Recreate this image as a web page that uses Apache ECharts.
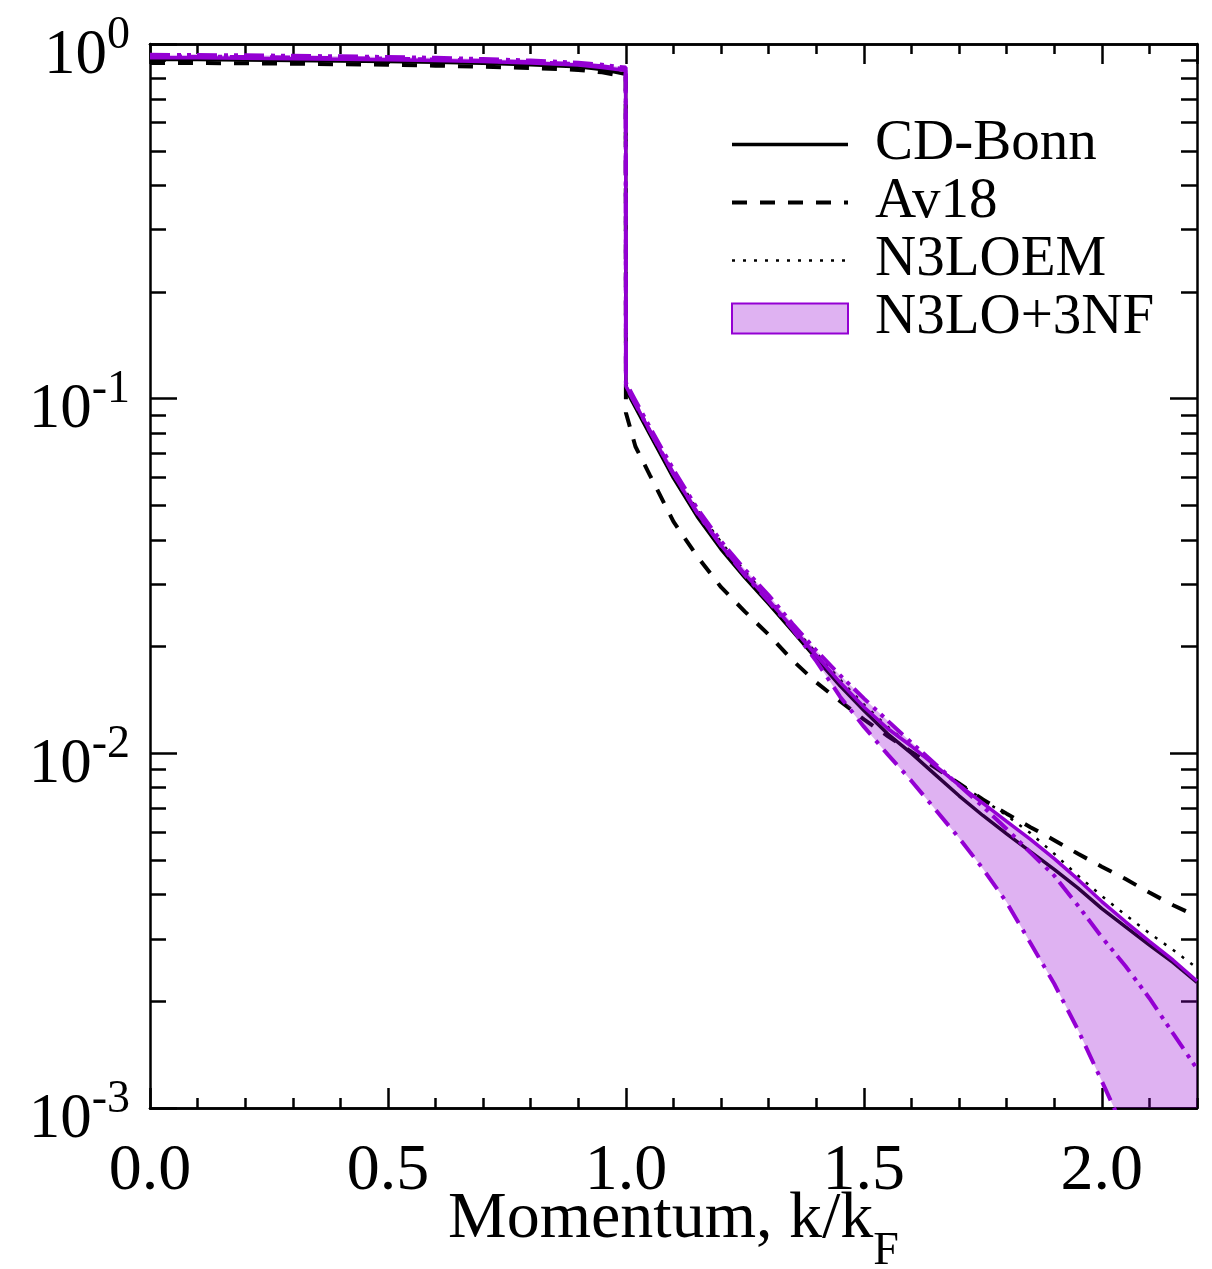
<!DOCTYPE html>
<html>
<head>
<meta charset="utf-8">
<script src="https://cdn.jsdelivr.net/npm/echarts@6/dist/echarts.min.js"></script>
<style>
  html, body { margin: 0; padding: 0; background: #fff; }
  #chart { width: 1212px; height: 1269px; }
</style>
</head>
<body>
<div id="chart"></div>
<script>
// Momentum grid k/kF (0.9995 -> 1.0 carries the jump at the Fermi surface)
const K = [0, 0.1, 0.2, 0.3, 0.4, 0.5, 0.6, 0.7, 0.8, 0.9, 0.95, 0.9995,
  1.0, 1.02, 1.05, 1.1, 1.15, 1.2, 1.25, 1.3, 1.35, 1.4, 1.45, 1.5, 1.55, 1.6,
  1.65, 1.7, 1.75, 1.8, 1.85, 1.9, 1.95, 2.0, 2.05, 2.1, 2.15, 2.2];

// Momentum distributions n(k)
const CD_BONN = [0.905, 0.904, 0.902, 0.899, 0.896, 0.893, 0.888, 0.882, 0.874, 0.862, 0.848, 0.822,
  0.106, 0.0944, 0.0794, 0.0597, 0.0465, 0.0376, 0.0313, 0.0264, 0.0221, 0.0185, 0.0155, 0.0132, 0.01135, 0.0100,
  0.00871, 0.00759, 0.00668, 0.00593, 0.00528, 0.00471, 0.00417, 0.00365, 0.00324, 0.00288, 0.00257, 0.00226];

const AV18 = [0.884, 0.884, 0.882, 0.880, 0.877, 0.874, 0.869, 0.863, 0.856, 0.845, 0.832, 0.810,
  0.0913, 0.0733, 0.0610, 0.0450, 0.0359, 0.0294, 0.0251, 0.0216, 0.0183, 0.01585, 0.01403, 0.01247, 0.01119, 0.01009,
  0.00912, 0.00822, 0.00741, 0.00676, 0.00619, 0.00569, 0.00521, 0.00479, 0.00442, 0.00405, 0.00373, 0.00347];

const N3LOEM = [0.912, 0.911, 0.909, 0.906, 0.903, 0.899, 0.894, 0.888, 0.880, 0.868, 0.855, 0.830,
  0.1084, 0.0973, 0.0818, 0.0624, 0.0486, 0.0394, 0.0326, 0.0274, 0.0229, 0.0192, 0.01614, 0.01374, 0.01189, 0.01045,
  0.0092, 0.00822, 0.00741, 0.00668, 0.00596, 0.00521, 0.00452, 0.00396, 0.0035, 0.00311, 0.00279, 0.00248];

// N3LO + three-nucleon-force family (solid, dash-dot-dot, dash-dot)
const N3LO_3NF_A = [0.915, 0.914, 0.912, 0.909, 0.906, 0.903, 0.898, 0.892, 0.884, 0.872, 0.859, 0.842,
  0.1085, 0.0966, 0.0812, 0.0611, 0.0476, 0.0385, 0.0320, 0.0270, 0.0226, 0.0189, 0.01586, 0.01351, 0.01175, 0.01047,
  0.00923, 0.00813, 0.00724, 0.00643, 0.00572, 0.00505, 0.00441, 0.00382, 0.00335, 0.00295, 0.00261, 0.00228];

const N3LO_3NF_B = [0.932, 0.931, 0.929, 0.926, 0.923, 0.919, 0.914, 0.907, 0.898, 0.886, 0.874, 0.858,
  0.111, 0.0989, 0.0832, 0.0631, 0.0490, 0.0396, 0.0330, 0.0279, 0.0232, 0.0195, 0.0166, 0.01429, 0.01236, 0.01072,
  0.00933, 0.00813, 0.00708, 0.00612, 0.00525, 0.00452, 0.00372, 0.00303, 0.00251, 0.00204, 0.00162, 0.00129];

const N3LO_3NF_C = [0.922, 0.921, 0.919, 0.916, 0.913, 0.909, 0.904, 0.897, 0.889, 0.877, 0.865, 0.848,
  0.1084, 0.0966, 0.0813, 0.0614, 0.0476, 0.0385, 0.0318, 0.0268, 0.0224, 0.0182, 0.01445, 0.01189, 0.00993, 0.00836,
  0.00695, 0.00577, 0.00473, 0.0038, 0.00292, 0.00224, 0.00166, 0.00119, 0.00085, 0.00062, 0.00045, 0.00032];

// Tick labels
const X_TICK_LABELS = ['0.0', '0.5', '1.0', '1.5', '2.0'];
const Y_TICK_EXPONENTS = ['-3', '-2', '-1', '0'];

const SERIF = "'Liberation Serif', 'Times New Roman', serif";
const PURPLE = '#9400d3';
const BAND_FILL = 'rgba(148, 0, 211, 0.3)';

const pairs = arr => K.map((k, i) => [k, arr[i]]);
const BAND = K.map((k, i) => {
  const v = [N3LO_3NF_A[i], N3LO_3NF_B[i], N3LO_3NF_C[i]];
  return [k, Math.min.apply(null, v), Math.max.apply(null, v)];
});

const axisLine = { show: true, onZero: false, lineStyle: { color: '#000', width: 2.5 } };
const tickStyle = { color: '#000', width: 2.5 };

function xAxis(position, interval, len, labels) {
  return {
    type: 'value', position: position, min: 0, max: 2.2, interval: interval,
    axisLine: axisLine,
    axisTick: { show: true, inside: true, length: len, lineStyle: tickStyle },
    axisLabel: labels ? {
      show: true, margin: 31, showMaxLabel: false,
      fontFamily: SERIF, fontSize: 66, color: '#000',
      formatter: v => X_TICK_LABELS[Math.round(v / 0.5)]
    } : { show: false },
    splitLine: { show: false }
  };
}

function yAxis(position, labels) {
  return {
    type: 'log', logBase: 10, position: position, min: 0.001, max: 1,
    axisLine: axisLine,
    axisTick: { show: true, inside: true, length: 27, lineStyle: tickStyle },
    minorTick: { show: true, splitNumber: 9, length: 16, lineStyle: tickStyle },
    axisLabel: labels ? {
      show: true, margin: 20,
      formatter: v => '{b|10}{s|' + Y_TICK_EXPONENTS[Math.round(Math.log10(v)) + 3] + '}',
      rich: {
        b: { fontFamily: SERIF, fontSize: 63, lineHeight: 63, color: '#000', verticalAlign: 'top', padding: [12, 0, 8, 0] },
        s: { fontFamily: SERIF, fontSize: 46, lineHeight: 46, color: '#000', verticalAlign: 'top' }
      }
    } : { show: false },
    splitLine: { show: false },
    minorSplitLine: { show: false }
  };
}

function line(name, data, color, width, type, z) {
  return {
    type: 'line', name: name, data: pairs(data), xAxisIndex: 0, yAxisIndex: 0,
    symbol: 'none', smooth: false, clip: true, z: z,
    lineStyle: { color: color, width: width, type: type },
    itemStyle: { color: color },
    emphasis: { disabled: true }
  };
}

const bottomAxis = xAxis('bottom', 0.5, 20, true);
bottomAxis.name = '{m|Momentum, k/k}{sub|F}';
bottomAxis.nameLocation = 'middle';
bottomAxis.nameGap = 79;
bottomAxis.nameMoveOverlap = false;
bottomAxis.nameTextStyle = {
  fontFamily: SERIF, fontSize: 66, color: '#000',
  rich: {
    m: { fontFamily: SERIF, fontSize: 66, lineHeight: 66, color: '#000', verticalAlign: 'top' },
    sub: { fontFamily: SERIF, fontSize: 46, lineHeight: 46, color: '#000', verticalAlign: 'top', padding: [42, 0, 0, 0] }
  }
};

// legend rows for the line series draw only the stroke, no marker
const hiddenMarker = { color: 'rgba(0,0,0,0)', borderColor: 'rgba(0,0,0,0)', borderWidth: 0 };

const option = {
  backgroundColor: '#fff',
  animation: false,
  grid: { left: 150, right: 15, top: 44, bottom: 161, containLabel: false, outerBoundsMode: 'none' },
  xAxis: [
    bottomAxis,
    xAxis('bottom', 0.1, 10, false),
    xAxis('top', 0.5, 20, false),
    xAxis('top', 0.1, 10, false)
  ],
  yAxis: [yAxis('left', true), yAxis('right', false)],
  legend: {
    orient: 'vertical', left: 730, top: 116, padding: 0,
    itemWidth: 116, itemHeight: 30, itemGap: 1,
    selectedMode: false,
    data: [
      { name: 'CD-Bonn', itemStyle: hiddenMarker, lineStyle: { width: 3.5 } },
      { name: 'Av18', itemStyle: hiddenMarker, lineStyle: { width: 4 } },
      { name: 'N3LOEM', itemStyle: hiddenMarker, lineStyle: { width: 2.5 } },
      { name: 'N3LO+3NF', icon: 'rect' }
    ],
    textStyle: { fontFamily: SERIF, fontSize: 57, lineHeight: 57, color: '#000', padding: [0, 0, 0, 22] }
  },
  series: [
    line('CD-Bonn', CD_BONN, '#000', 3.5, 'solid', 2),
    line('Av18', AV18, '#000', 4, [15, 13], 2),
    line('N3LOEM', N3LOEM, '#000', 2.5, [3, 8], 2),
    {
      type: 'custom', name: 'N3LO+3NF', data: BAND, clip: true, z: 3,
      xAxisIndex: 0, yAxisIndex: 0,
      encode: { x: 0, y: [1, 2] },
      itemStyle: { color: BAND_FILL, borderColor: PURPLE, borderWidth: 2 },
      renderItem: function (params, api) {
        if (params.dataIndex !== 0) return null;
        const upper = [], lower = [];
        BAND.forEach(r => {
          upper.push(api.coord([r[0], r[2]]));
          lower.push(api.coord([r[0], r[1]]));
        });
        return {
          type: 'polygon',
          shape: { points: upper.concat(lower.reverse()) },
          style: { fill: BAND_FILL, stroke: null }
        };
      }
    },
    line('N3LO+3NF solid', N3LO_3NF_A, PURPLE, 3.5, 'solid', 4),
    line('N3LO+3NF dash-dot-dot', N3LO_3NF_B, PURPLE, 4, [20, 7, 4, 6, 4, 6], 4),
    line('N3LO+3NF dash-dot', N3LO_3NF_C, PURPLE, 4, [20, 8, 4, 8], 4)
  ]
};

const chart = echarts.init(document.getElementById('chart'), null, { renderer: 'canvas' });
chart.setOption(option);
</script>
</body>
</html>
